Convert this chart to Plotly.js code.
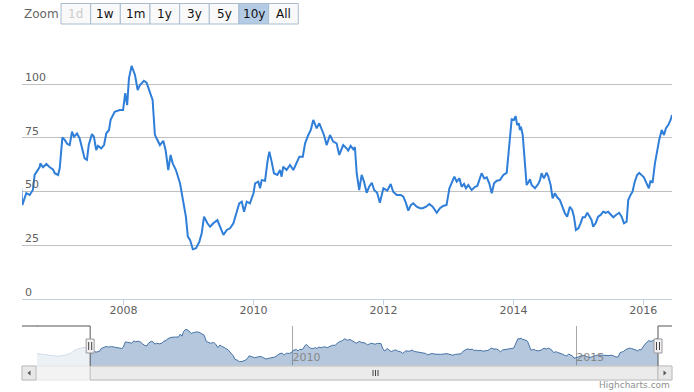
<!DOCTYPE html>
<html>
<head>
<meta charset="utf-8">
<script src="https://cdn.plot.ly/plotly-3.0.1.min.js"></script>
<style>html,body{margin:0;padding:0;background:#fff;}#chart{width:694px;height:392px;}</style>
</head>
<body>
<div id="chart"></div>
<script>
// ---- data ----
const dates = [
'2005-07-03','2005-08-05','2005-09-09','2005-10-10','2005-11-13','2005-12-27','2006-02-08','2006-03-11','2006-04-12','2006-05-15','2006-06-01',
'2006-06-12','2006-07-04','2006-07-23','2006-08-10','2006-08-20','2006-09-18','2006-09-21','2006-10-06','2006-10-25','2006-11-13','2006-12-01','2006-12-11','2006-12-30',
'2007-01-08','2007-01-23','2007-02-05','2007-02-20','2007-03-05','2007-03-18','2007-03-29','2007-04-15','2007-04-30','2007-05-13','2007-05-28','2007-06-10','2007-06-20','2007-07-08','2007-07-19','2007-08-01','2007-08-11','2007-08-29','2007-09-14','2007-09-27','2007-10-12','2007-10-21','2007-11-13','2007-12-11','2007-12-30',
'2008-01-11','2008-01-22','2008-02-01','2008-02-16','2008-03-06','2008-03-21','2008-04-03','2008-04-25','2008-05-10','2008-05-29','2008-06-13','2008-06-26','2008-07-24','2008-08-12','2008-08-25','2008-09-09','2008-09-22','2008-10-04','2008-10-22','2008-11-14','2008-12-02','2008-12-17','2008-12-28',
'2009-01-10','2009-01-25','2009-02-12','2009-03-03','2009-03-16','2009-03-29','2009-04-17','2009-05-02','2009-05-20','2009-06-12','2009-07-01','2009-07-16','2009-08-04','2009-08-22','2009-09-10','2009-09-29','2009-10-13','2009-10-27','2009-11-09','2009-11-24','2009-12-12',
'2010-01-01','2010-01-10','2010-01-28','2010-02-07','2010-02-16','2010-03-07','2010-03-22','2010-03-31','2010-04-13','2010-04-26','2010-05-15','2010-05-30','2010-06-08','2010-06-17','2010-07-06','2010-07-25','2010-08-13','2010-09-01','2010-09-16','2010-10-05','2010-10-18','2010-11-05','2010-11-19','2010-12-03','2010-12-22',
'2011-01-06','2011-01-19','2011-02-01','2011-02-16','2011-03-07','2011-03-25','2011-04-13','2011-04-28','2011-05-11','2011-05-20','2011-06-08','2011-06-17','2011-07-01','2011-07-16','2011-07-25','2011-08-04','2011-08-18','2011-09-01','2011-09-14','2011-09-29','2011-10-13','2011-10-28','2011-11-10','2011-11-27','2011-12-12',
'2012-01-01','2012-01-23','2012-02-11','2012-02-25','2012-03-16','2012-04-08','2012-04-22','2012-05-06','2012-05-20','2012-06-03','2012-06-17','2012-07-06','2012-07-25','2012-08-09','2012-08-28','2012-09-15','2012-10-04','2012-10-27','2012-11-14','2012-12-02','2012-12-21',
'2013-01-06','2013-01-19','2013-02-03','2013-02-16','2013-03-03','2013-03-16','2013-03-29','2013-04-09','2013-04-22','2013-05-11','2013-05-30','2013-06-12','2013-06-27','2013-07-06','2013-07-21','2013-08-04','2013-08-18','2013-09-01','2013-09-14','2013-09-29','2013-10-17','2013-11-05','2013-11-24','2013-12-03','2013-12-12','2013-12-22',
'2014-01-04','2014-01-13','2014-01-22','2014-02-01','2014-02-06','2014-02-12','2014-02-22','2014-03-07','2014-03-16','2014-03-25','2014-04-04','2014-04-13','2014-05-02','2014-05-20','2014-05-30','2014-06-08','2014-06-21','2014-07-06','2014-07-15','2014-07-29','2014-08-09','2014-08-22','2014-09-04','2014-09-19','2014-10-04','2014-10-17','2014-10-30','2014-11-14','2014-11-27','2014-12-07','2014-12-18',
'2015-01-01','2015-01-13','2015-01-25','2015-02-07','2015-02-20','2015-03-03','2015-03-16','2015-03-25','2015-04-09','2015-04-22','2015-05-06','2015-05-20','2015-06-04','2015-06-17','2015-07-01','2015-07-16','2015-07-31','2015-08-18','2015-09-01','2015-09-14','2015-09-29','2015-10-08','2015-10-21','2015-11-01','2015-11-14','2015-11-27','2015-12-09','2015-12-22',
'2016-01-04','2016-01-19','2016-02-01','2016-02-10','2016-02-22','2016-03-06','2016-03-19','2016-03-30','2016-04-13','2016-04-26','2016-05-07','2016-05-20','2016-06-02','2016-06-10'
];
const values = [
44,42,41.4,39,37.2,39.8,45.9,54.6,59,61,56,
43.7,49.2,48.4,50.7,57.7,61.5,63.1,61.3,62.8,61.3,60.3,58.5,57.7,
60.8,75.2,74,72.1,71.6,77.8,75.5,77,74.7,70.1,65.4,64.7,71.6,76.7,75.5,69.3,71.2,70.1,71.6,77.1,78.6,83.3,87.1,87.9,87.9,
95.7,90.2,102.6,108.4,104.2,97.2,99.5,101.5,100.6,95.7,92.6,76.3,71.6,73.6,69.3,60,67,63.1,60,53.8,46,38.3,29,
27.4,23.1,23.6,26.7,30.6,38.3,35.2,33.6,35.2,36.7,32.9,29.8,32.1,32.9,35.2,40.6,44.5,45.3,40.6,45.3,44.5,
49.2,53.8,54.6,51.5,55.3,55,64.7,68.5,63.9,58.5,57.7,60,56.9,61.5,60,62.3,60,63.1,66.2,66.2,72.4,76.3,78.6,83.3,79.4,
81.7,78.6,76.3,71.6,76.3,73.2,72.4,67,69.6,71.6,70.1,69,71.2,69.6,70.6,58.5,50.7,57.7,54.6,49.4,52.2,54.1,50.7,49.4,44.8,
51.5,50.4,53.5,49.9,48.4,48.4,47.6,44.8,41.1,43.7,44.5,42.9,42.2,42.2,42.9,44.2,42.9,40.1,42.2,43.3,43.7,
51.5,53.8,56.9,54.6,56.1,52.2,53.5,51.5,53,50.7,52.2,52.6,56.9,58.5,56.1,56.6,53.8,49.2,53.8,55,55.3,57.7,58.7,66.2,77.1,83.6,
83.3,85.1,80.9,81.7,78.6,80.1,76.3,63.1,53,54.1,55.7,53,51.5,53.5,55.3,58.5,56.1,58.7,57.2,53,46.8,49.2,47.3,46,42.9,39.9,38.3,42.9,41.4,38.3,32.1,
32.9,35.2,38,38,40.1,38.6,36.7,33.6,35.5,38.3,39.1,40.6,40.1,40.6,39.1,38,39.1,40.1,38.3,35.2,36,46,48.4,49.9,54.6,57.7,58.7,57.7,
56.6,53.8,51.5,55,54.1,63.1,69.3,74,78.6,76.3,79.4,80.9,83.3,85.6
];
const viewRange = ['2006-06-10', '2016-06-10'];
const yTicks = [0, 25, 50, 75, 100, 125];
const yTickText = ['0', '25', '50', '75', '100', ''];
const zoomButtons = ['1d', '1w', '1m', '1y', '3y', '5y', '10y', 'All'];
const selectedButton = '10y';
const disabledButton = '1d';

// ---- helpers for page-pixel decorations ----
const W = 694, H = 392;
const px = x => x / W;
const py = y => 1 - y / H;
const FONT = '"DejaVu Sans", Verdana, sans-serif';

const navTop = 326, navBot = 366, sbTop = 366, sbBot = 380;
const shapes = [];
const annotations = [];

// Zoom buttons
annotations.push({xref:'paper', yref:'paper', x:px(22), y:py(14), xanchor:'left', yanchor:'middle',
  text:'Zoom', showarrow:false, font:{family:FONT, size:12, color:'#666666'}});
const bx0 = 61, bw = 29.66;
zoomButtons.forEach((b, i) => {
  const sel = b === selectedButton;
  shapes.push({type:'rect', xref:'paper', yref:'paper', x0:px(bx0 + i*bw), x1:px(bx0 + (i+1)*bw),
    y0:py(24), y1:py(3.5), fillcolor: sel ? '#B4CBE6' : '#F9F9F9',
    line:{color:'#A9BCCF', width:1}, layer:'above'});
  annotations.push({xref:'paper', yref:'paper', x:px(bx0 + (i+0.5)*bw), y:py(14), xanchor:'center', yanchor:'middle',
    text:b, showarrow:false, font:{family:FONT, size:12, color: b === disabledButton ? '#CCCCCC' : '#111111'}});
});

// Navigator mask over unselected region
shapes.push({type:'rect', xref:'x2', yref:'paper', x0:dates[0], x1:viewRange[0], y0:py(navBot), y1:py(navTop),
  fillcolor:'rgba(255,255,255,0.75)', line:{width:0}, layer:'above'});

// Scrollbar
shapes.push({type:'rect', xref:'paper', yref:'paper', x0:px(22), x1:px(672), y0:py(sbBot), y1:py(sbTop),
  fillcolor:'#F3F3F3', line:{color:'#E6E6E6', width:1}, layer:'above'});
shapes.push({type:'rect', xref:'x2', yref:'paper', x0:viewRange[0], x1:viewRange[1], y0:py(sbBot), y1:py(sbTop),
  fillcolor:'#EBEBEB', line:{color:'#BBBBBB', width:1}, layer:'above'});
shapes.push({type:'rect', xref:'paper', yref:'paper', x0:px(22), x1:px(36), y0:py(sbBot), y1:py(sbTop),
  fillcolor:'#E8E8E8', line:{color:'#BBBBBB', width:1}, layer:'above'});
shapes.push({type:'rect', xref:'paper', yref:'paper', x0:px(658), x1:px(672), y0:py(sbBot), y1:py(sbTop),
  fillcolor:'#E8E8E8', line:{color:'#BBBBBB', width:1}, layer:'above'});
shapes.push({type:'path', xref:'paper', yref:'paper',
  path:`M ${px(27.5)} ${py(373)} L ${px(30.5)} ${py(370.5)} L ${px(30.5)} ${py(375.5)} Z`,
  fillcolor:'#555555', line:{width:0}, layer:'above'});
shapes.push({type:'path', xref:'paper', yref:'paper',
  path:`M ${px(666.5)} ${py(373)} L ${px(663.5)} ${py(370.5)} L ${px(663.5)} ${py(375.5)} Z`,
  fillcolor:'#555555', line:{width:0}, layer:'above'});
[-2.5, 0, 2.5].forEach(d => {
  shapes.push({type:'line', xref:'paper', yref:'paper', x0:px(375.5+d), x1:px(375.5+d), y0:py(370), y1:py(376),
    line:{color:'#444444', width:1}, layer:'above'});
});

// Navigator outline
const outline = {color:'#555555', width:1};
shapes.push({type:'line', xref:'paper', yref:'paper', x0:px(22), x1:px(37.5), y0:py(navTop), y1:py(navTop), line:outline, layer:'above'});
shapes.push({type:'line', xref:'x2', yref:'paper', x0:dates[0], x1:viewRange[0], y0:py(navTop), y1:py(navTop), line:outline, layer:'above'});
shapes.push({type:'line', xref:'x2', yref:'paper', x0:viewRange[0], x1:viewRange[0], y0:py(navBot), y1:py(navTop), line:outline, layer:'above'});
shapes.push({type:'line', xref:'paper', yref:'paper', x0:px(658), x1:px(658), y0:py(navBot), y1:py(navTop), line:outline, layer:'above'});
shapes.push({type:'line', xref:'paper', yref:'paper', x0:px(658), x1:px(672), y0:py(navTop), y1:py(navTop), line:outline, layer:'above'});

// Navigator handles
shapes.push({type:'rect', xref:'x2', yref:'paper', xsizemode:'pixel', xanchor:viewRange[0], x0:-4, x1:4,
  y0:py(353), y1:py(339), fillcolor:'#F2F0F1', line:{color:'#9A999E', width:1}, layer:'above'});
[-1.5, 1.5].forEach(d => shapes.push({type:'line', xref:'x2', yref:'paper', xsizemode:'pixel', xanchor:viewRange[0],
  x0:d, x1:d, y0:py(350), y1:py(342), line:{color:'#444444', width:1}, layer:'above'}));
shapes.push({type:'rect', xref:'paper', yref:'paper', x0:px(654), x1:px(662),
  y0:py(353), y1:py(339), fillcolor:'#F2F0F1', line:{color:'#9A999E', width:1}, layer:'above'});
[-1.5, 1.5].forEach(d => shapes.push({type:'line', xref:'paper', yref:'paper',
  x0:px(658+d), x1:px(658+d), y0:py(350), y1:py(342), line:{color:'#444444', width:1}, layer:'above'}));

// Credits
annotations.push({xref:'paper', yref:'paper', x:px(672), y:py(385), xanchor:'right', yanchor:'middle',
  text:'Highcharts.com', showarrow:false, font:{family:FONT, size:9, color:'#909090'}});

const traces = [
  {x:dates, y:values, type:'scatter', mode:'lines', xaxis:'x', yaxis:'y',
   line:{color:'#2F7ED8', width:2}, hoverinfo:'x+y'},
  {x:dates, y:values, type:'scatter', mode:'lines', xaxis:'x2', yaxis:'y2',
   fill:'tozeroy', fillcolor:'rgba(69,114,167,0.4)', line:{color:'#4572A7', width:1}, hoverinfo:'skip'}
];

const layout = {
  width: W, height: H,
  margin:{l:0, r:0, t:0, b:0},
  paper_bgcolor:'#ffffff', plot_bgcolor:'rgba(0,0,0,0)',
  showlegend:false,
  font:{family:FONT, size:11, color:'#606060'},
  xaxis:{
    domain:[px(22), px(672)], anchor:'y', type:'date', range:viewRange,
    tick0:'2008-01-01', dtick:'M24', tickformat:'%Y',
    ticks:'outside', ticklen:5, tickcolor:'#C0D0E0', tickwidth:1, ticklabelstandoff:-4,
    showline:true, linecolor:'#C0D0E0', linewidth:1, showgrid:false, zeroline:false,
    tickfont:{family:FONT, size:11, color:'#606060'}, fixedrange:true
  },
  yaxis:{
    domain:[py(299), py(30.25)], anchor:'x', range:[0, 125],
    tickmode:'array', tickvals:yTicks, ticktext:yTickText,
    ticklabelposition:'inside', ticklabelshift:-7, ticks:'',
    showgrid:true, gridcolor:'#C0C0C0', gridwidth:1, zeroline:false, showline:false,
    tickfont:{family:FONT, size:11, color:'#606060'}, fixedrange:true
  },
  xaxis2:{
    domain:[px(37), px(658)], anchor:'y2', type:'date', range:[dates[0], dates[dates.length-1]],
    tick0:'2010-01-01', dtick:'M60', tickformat:'%Y',
    ticklabelposition:'inside right', ticks:'', ticklabelstandoff:-3,
    showgrid:true, gridcolor:'#A8A8A8', gridwidth:1, zeroline:false, showline:false,
    tickfont:{family:FONT, size:11, color:'#888888'}, fixedrange:true
  },
  yaxis2:{
    domain:[py(navBot), py(navTop)], anchor:'x2', range:[11.6, 117],
    showgrid:false, showticklabels:false, zeroline:false, showline:false, ticks:'', fixedrange:true
  },
  shapes: shapes,
  annotations: annotations
};

Plotly.newPlot('chart', traces, layout, {displayModeBar:false, responsive:false});
</script>
</body>
</html>
